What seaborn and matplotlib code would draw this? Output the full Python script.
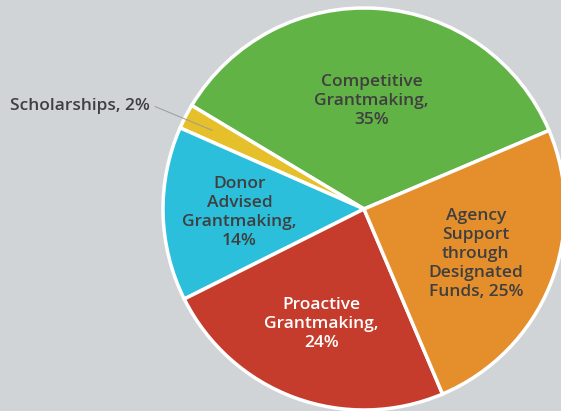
import numpy as np
import seaborn as sns
import matplotlib.pyplot as plt

# slice data, counter-clockwise from the green/orange boundary
categories = ['Competitive\nGrantmaking,', 'Scholarships,', 'Donor\nAdvised\nGrantmaking,',
              'Proactive\nGrantmaking,', 'Agency\nSupport\nthrough\nDesignated\nFunds,']
shares = [35, 2, 14, 24, 25]
colors = ['#62b346', '#e6c02b', '#2bbfdb', '#c53c2d', '#e58e2c']
text_colors = ['#3f3f3f', '#3f3f3f', '#3f3f3f', 'white', '#3f3f3f']
label_r = [0.54, None, 0.62, 0.61, 0.60]

sns.set_theme(style='white')
plt.rcParams['font.family'] = ['Open Sans', 'DejaVu Sans']

bg = '#d1d4d7'
fig = plt.figure(figsize=(5.61, 4.11), dpi=100, facecolor=bg)
ax = fig.add_axes([0, 0, 1, 1])
ax.set_facecolor(bg)

wedges, _ = ax.pie(shares, colors=colors, startangle=23, counterclock=True,
                   radius=1.0, wedgeprops=dict(edgecolor='white', linewidth=2.5))

for w, cat, val, tc, r in zip(wedges, categories, shares, text_colors, label_r):
    mid = np.deg2rad((w.theta1 + w.theta2) / 2)
    if r is None:
        # outside label with leader line
        ex, ey = 0.85 * np.cos(mid), 0.85 * np.sin(mid)
        ax.plot([-1.04, ex], [0.51, ey], color='#9a9a9a', lw=0.7, zorder=5)
        ax.text(-1.065, 0.51, f'{cat} {val}%', ha='right', va='center',
                fontsize=12.5, fontweight='semibold', color='#3f3f3f')
        continue
    if cat.startswith('Agency'):
        txt = cat[:-1] + f', {val}%'
    else:
        txt = f'{cat}\n{val}%'
    ax.text(r * np.cos(mid), r * np.sin(mid), txt, ha='center', va='center',
            fontsize=12.5, fontweight='semibold', color=tc, linespacing=1.25)

ax.set_aspect('auto')
ax.set_xlim(-364 / 201, (561 - 364) / 201)
ax.set_ylim(-(411 - 209) / 201, 209 / 201)
ax.axis('off')

plt.savefig('out.png', dpi=100, facecolor=bg)
